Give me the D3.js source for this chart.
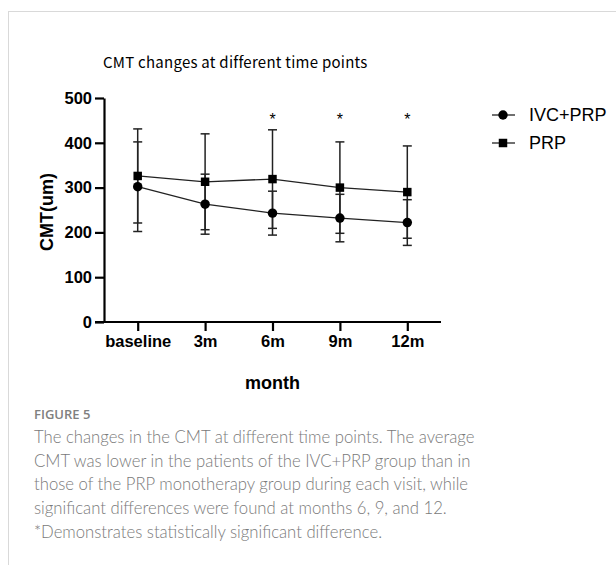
<!DOCTYPE html>
<html>
<head>
<meta charset="utf-8">
<script src="https://cdn.jsdelivr.net/npm/d3@7"></script>
<style>
  body { margin: 0; background: #fff; }
  svg { display: block; }
</style>
</head>
<body>
<svg id="chart"></svg>
<script>
var width = 616;
var height = 565;

// data
var months = ['baseline', '3m', '6m', '9m', '12m'];
var ivcMean = [302, 263, 243, 232, 222];
var ivcSD = [100, 67, 49, 53, 51];
var prpMean = [326, 313, 319, 300, 290];
var prpSD = [105, 107, 110, 102, 103];
var significant = ['6m', '9m', '12m'];
var yTicks = [0, 100, 200, 300, 400, 500];

var captionLines = [
  'The changes in the CMT at different time points. The average',
  'CMT was lower in the patients of the IVC+PRP group than in',
  'those of the PRP monotherapy group during each visit, while',
  'significant differences were found at months 6, 9, and 12.',
  '*Demonstrates statistically significant difference.'
];

var svg = d3.select('#chart')
  .attr('width', width)
  .attr('height', height);

// frame around the figure
svg.append('rect')
  .attr('x', 8.5)
  .attr('y', 11.5)
  .attr('width', 700)
  .attr('height', 700)
  .attr('fill', 'none')
  .attr('stroke', '#d9d9d9')
  .attr('stroke-width', 1);

var xScale = d3.scalePoint()
  .domain(months)
  .range([104, 441])
  .padding(0.5);

var yScale = d3.scaleLinear()
  .domain([0, 500])
  .range([322, 98]);

var series = [
  { name: 'IVC+PRP', mean: ivcMean, sd: ivcSD, shape: 'circle' },
  { name: 'PRP', mean: prpMean, sd: prpSD, shape: 'square' }
];

// Axes
var yAxis = d3.axisLeft(yScale)
  .tickValues(yTicks)
  .tickSize(9)
  .tickSizeOuter(0)
  .tickPadding(3);

var xAxis = d3.axisBottom(xScale)
  .tickSize(9)
  .tickSizeOuter(0)
  .tickPadding(4);

var gy = svg.append('g')
  .attr('transform', 'translate(' + xScale.range()[0] + ',0)')
  .call(yAxis);

var gx = svg.append('g')
  .attr('transform', 'translate(0,' + yScale(0) + ')')
  .call(xAxis);

// GraphPad style: x axis line runs under the 0 tick
gx.select('.domain')
  .attr('d', 'M' + (xScale.range()[0] - 9) + ',0H' + xScale.range()[1]);

[gx, gy].forEach(function(g) {
  g.selectAll('.domain, .tick line')
    .attr('stroke', '#000')
    .attr('stroke-width', 2.2);
  g.selectAll('.tick text')
    .attr('fill', '#000')
    .style('font-family', 'Liberation Sans, Arial, sans-serif')
    .style('font-weight', 'bold')
    .style('font-size', '16.5px');
});

// error bars
series.forEach(function(s) {
  var g = svg.append('g');
  var rows = months.map(function(m, i) {
    return { m: m, mean: s.mean[i], sd: s.sd[i] };
  });
  g.selectAll('line.bar')
    .data(rows)
    .enter()
    .append('line')
      .attr('x1', d => xScale(d.m))
      .attr('x2', d => xScale(d.m))
      .attr('y1', d => yScale(d.mean + d.sd))
      .attr('y2', d => yScale(d.mean - d.sd))
      .attr('stroke', '#222')
      .attr('stroke-width', 1.5);
  ['top', 'bottom'].forEach(function(end) {
    g.selectAll('line.cap-' + end)
      .data(rows)
      .enter()
      .append('line')
        .attr('x1', d => xScale(d.m) - 4.5)
        .attr('x2', d => xScale(d.m) + 4.5)
        .attr('y1', d => yScale(end == 'top' ? d.mean + d.sd : d.mean - d.sd))
        .attr('y2', d => yScale(end == 'top' ? d.mean + d.sd : d.mean - d.sd))
        .attr('stroke', '#222')
        .attr('stroke-width', 1.5);
  });
});

// lines and markers
var line = d3.line()
  .x((d, i) => xScale(months[i]))
  .y(d => yScale(d));

series.forEach(function(s) {
  svg.append('path')
    .datum(s.mean)
    .attr('d', line)
    .attr('fill', 'none')
    .attr('stroke', '#222')
    .attr('stroke-width', 1.3);

  var sym = d3.symbol()
    .type(s.shape == 'circle' ? d3.symbolCircle : d3.symbolSquare)
    .size(s.shape == 'circle' ? 70 : 72);

  svg.selectAll(null)
    .data(s.mean)
    .enter()
    .append('path')
      .attr('d', sym)
      .attr('transform', (d, i) => 'translate(' + xScale(months[i]) + ',' + yScale(d) + ')')
      .attr('fill', '#000');
});

// significance stars
svg.selectAll('text.star')
  .data(significant)
  .enter()
  .append('text')
    .attr('x', d => xScale(d))
    .attr('y', 125)
    .style('text-anchor', 'middle')
    .style('font-family', 'Liberation Sans, Arial, sans-serif')
    .style('font-size', '16px')
    .text('*');

// Legend
var legend = svg.selectAll('g.legend')
  .data(series)
  .enter()
  .append('g')
    .attr('transform', (d, i) => 'translate(503,' + (115 + i * 28) + ')');

legend.append('line')
  .attr('x1', -11)
  .attr('x2', 12)
  .attr('stroke', '#222')
  .attr('stroke-width', 1.3);

legend.append('path')
  .attr('d', d => d3.symbol()
    .type(d.shape == 'circle' ? d3.symbolCircle : d3.symbolSquare)
    .size(d.shape == 'circle' ? 70 : 72)())
  .attr('fill', '#000');

legend.append('text')
  .attr('x', 26)
  .attr('dy', '0.35em')
  .style('font-family', 'Liberation Sans, Arial, sans-serif')
  .style('font-size', '18px')
  .text(d => d.name);

// Text
svg.append('text')
  .attr('x', 103)
  .attr('y', 68)
  .style('font-family', 'Noto Sans CJK JP, sans-serif')
  .style('font-size', '15px')
  .style('letter-spacing', '0.25px')
  .text('CMT changes at different time points');

svg.append('text')
  .attr('x', (xScale.range()[0] + xScale.range()[1]) / 2)
  .attr('y', 389)
  .style('text-anchor', 'middle')
  .style('font-family', 'Liberation Sans, Arial, sans-serif')
  .style('font-weight', 'bold')
  .style('font-size', '18px')
  .text('month');

svg.append('text')
  .attr('transform', 'rotate(-90)')
  .attr('x', -212)
  .attr('y', 53)
  .style('text-anchor', 'middle')
  .style('font-family', 'Liberation Sans, Arial, sans-serif')
  .style('font-weight', 'bold')
  .style('font-size', '18px')
  .text('CMT(um)');

// caption
svg.append('text')
  .attr('x', 34)
  .attr('y', 419)
  .attr('fill', '#808080')
  .style('font-family', 'Open Sans, sans-serif')
  .style('font-weight', '600')
  .style('font-size', '13px')
  .text('FIGURE 5');

svg.selectAll('text.caption')
  .data(captionLines)
  .enter()
  .append('text')
    .attr('x', 34)
    .attr('y', (d, i) => 443 + i * 23.7)
    .attr('fill', '#7a7a7a')
    .style('font-family', 'Lato, sans-serif')
    .style('font-weight', '300')
    .style('font-size', '16.7px')
    .text(d => d);
</script>
</body>
</html>
